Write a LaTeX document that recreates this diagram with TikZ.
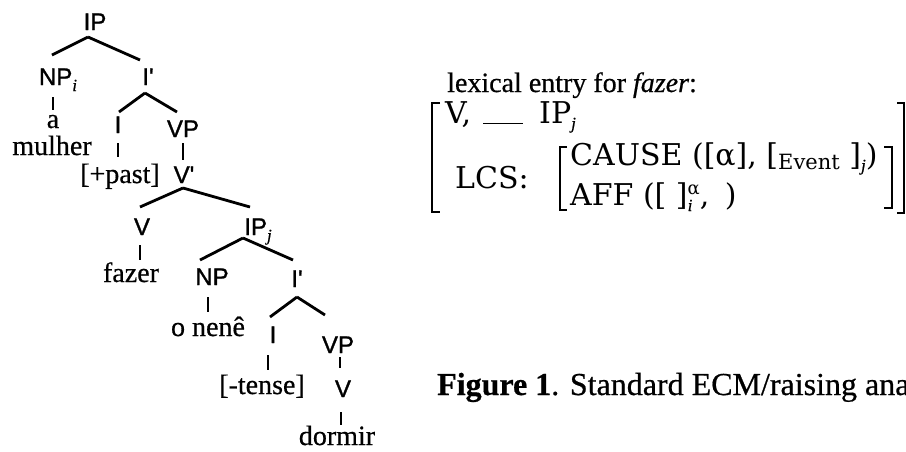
\documentclass[tikz,border=0pt]{standalone}
\usepackage{fontspec}
\setmainfont{Liberation Serif}[FakeBold=0.6]
\newfontfamily\treesans{Liberation Sans}[FakeBold=1.2]
\newfontfamily\avmfont{DejaVu Serif}
\begin{document}
\begin{tikzpicture}[x=1pt,y=-1pt,
  cat/.style={font=\treesans\fontsize{24}{24}\selectfont, inner sep=0pt, anchor=base},
  word/.style={font=\fontsize{28}{28}\selectfont, inner sep=0pt, anchor=base},
  avm/.style={font=\avmfont\fontsize{30}{30}\selectfont, inner sep=0pt, anchor=base west},
  branch/.style={line width=2.8pt},
  brk/.style={line width=1.9pt}]
\useasboundingbox (0,0) rectangle (906,451);
\newcommand{\sbi}[1]{\raisebox{-6pt}{\fontsize{17}{17}\selectfont\rmfamily\itshape #1}}
% tree labels
\node[cat] (IP) at (95,30) {IP};
\node[cat] (NPi) at (58,85) {NP\sbi{i}};
\node[cat] (Ib1) at (148,85) {I\char"0027};
\node[word] (a) at (53,128) {a};
\node[word] (mulher) at (52,155) {mulher};
\node[cat] (I1) at (118,133) {I};
\node[cat] (VP1) at (183,137) {VP};
\node[word] (past) at (120,183) {[+past]};
\node[cat] (Vbar) at (184,183) {V\char"0027};
\node[cat] (V1) at (142,235) {V};
\node[cat] (IPj) at (258,235) {IP\sbi{j}};
\node[word] (fazer) at (131,282) {fazer};
\node[cat] (NP2) at (212,285) {NP};
\node[cat] (Ib2) at (297,287) {I\char"0027};
\node[word] (nene) at (208,336) {o nenê};
\node[cat] (I2) at (273,343) {I};
\node[cat] (VP2) at (338,353) {VP};
\node[word] (tense) at (262,394) {[-tense]};
\node[cat] (V2) at (343,397) {V};
\node[word] (dormir) at (337,445) {dormir};
% branches
\draw[branch] ([shift={(-7,7)}]IP.base) -- ([shift={(-6,-30)}]NPi.base);
\draw[branch] ([shift={(-7,7)}]IP.base) -- ([shift={(-8,-25)}]Ib1.base);
\draw[branch] ([shift={(-5,12)}]NPi.base) -- ([shift={(0,-18)}]a.base);
\draw[branch] ([shift={(-3,8)}]Ib1.base) -- ([shift={(1,-21)}]I1.base);
\draw[branch] ([shift={(-3,8)}]Ib1.base) -- ([shift={(-6,-25)}]VP1.base);
\draw[branch] ([shift={(0,10)}]I1.base) -- ([shift={(-2,-26)}]past.base);
\draw[branch] ([shift={(0,6)}]VP1.base) -- ([shift={(-1,-23)}]Vbar.base);
\draw[branch] ([shift={(-1,5)}]Vbar.base) -- ([shift={(-2,-28)}]V1.base);
\draw[branch] ([shift={(-1,5)}]Vbar.base) -- ([shift={(-8,-28)}]IPj.base);
\draw[branch] ([shift={(-2,10)}]V1.base) -- ([shift={(9,-22)}]fazer.base);
\draw[branch] ([shift={(-15,3)}]IPj.base) -- ([shift={(-12,-25)}]NP2.base);
\draw[branch] ([shift={(-15,3)}]IPj.base) -- ([shift={(-4,-27)}]Ib2.base);
\draw[branch] ([shift={(-4,12)}]NP2.base) -- ([shift={(0,-24)}]nene.base);
\draw[branch] ([shift={(0,10)}]Ib2.base) -- ([shift={(-3,-26)}]I2.base);
\draw[branch] ([shift={(0,10)}]Ib2.base) -- ([shift={(-13,-38)}]VP2.base);
\draw[branch] ([shift={(-5,12)}]I2.base) -- ([shift={(6,-24)}]tense.base);
\draw[branch] ([shift={(2,4)}]VP2.base) -- ([shift={(-3,-29)}]V2.base);
\draw[branch] ([shift={(-2,15)}]V2.base) -- ([shift={(4,-20)}]dormir.base);
% lexical entry
\node[word, anchor=base west] (lex) at (447,92) {lexical entry for \textit{fazer}:};
\node[avm] (row1) at (445,123) {V,\hspace{12pt}\rule[-1pt]{40pt}{1.4pt}\hspace{16pt}IP\sbi{j}};
\node[avm] (lcs) at (455,188) {LCS:};
\node[avm] (cause) at (570,165) {CAUSE ([α], [\raisebox{-4pt}{\fontsize{21}{21}\selectfont Event} ]\sbi{j})};
\node[avm] (aff) at (570,205) {AFF ([ ]\rlap{\sbi{i}}\raisebox{11pt}{\fontsize{18}{18}\selectfont α}, \hspace{6pt})};
% brackets
\draw[brk] (440,103) -- (432,103) -- (432,212) -- (440,212);
\draw[brk] (567,147) -- (560,147) -- (560,210) -- (567,210);
\draw[brk] (884,147) -- (892,147) -- (892,208) -- (884,208);
\draw[brk] (897,103) -- (904,103) -- (904,213) -- (897,213);
% caption
\node[word, anchor=base west, font=\fontsize{32}{32}\selectfont] (cap) at (437,395) {\textbf{Figure 1}. Standard ECM/raising ana};
\end{tikzpicture}
\end{document}
